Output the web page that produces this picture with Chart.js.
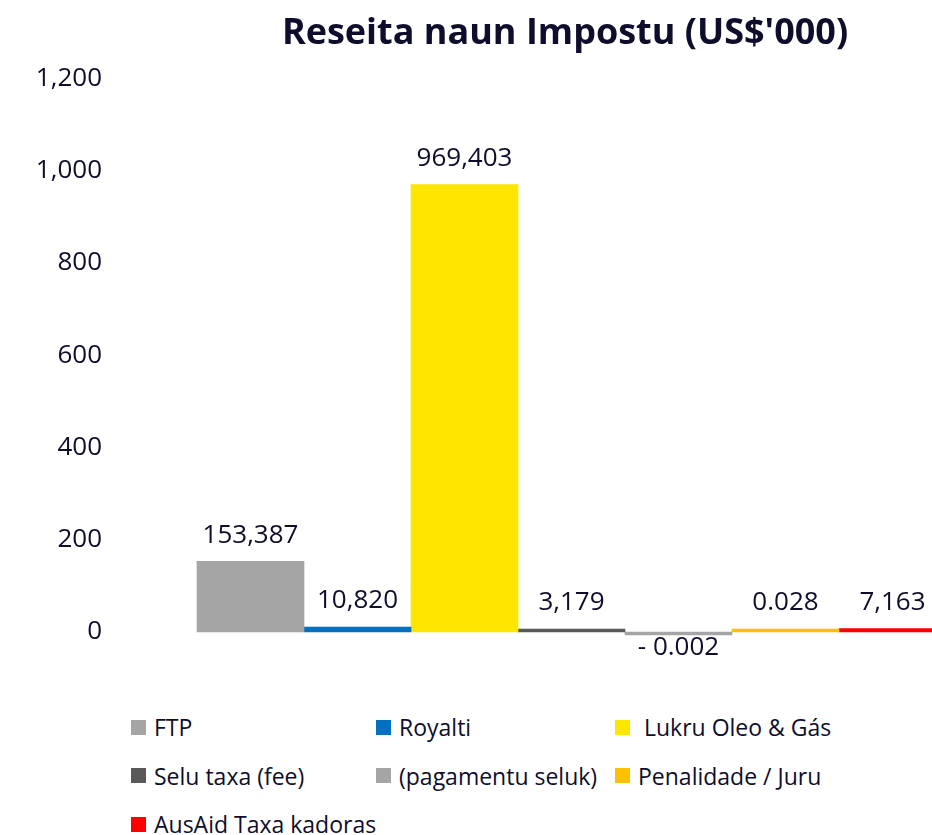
<!DOCTYPE html>
<html>
<head>
<meta charset="utf-8">
<script src="https://cdn.jsdelivr.net/npm/chart.js@4"></script>
<style>
	html, body { margin: 0; padding: 0; background: #fff; }
	body { width: 932px; height: 835px; overflow: hidden; position: relative; font-family: 'Open Sans', sans-serif; }
	#chart { position: absolute; left: 0; top: 0; }
	#legend {
		position: absolute; left: 131px; top: 703px;
		display: grid; grid-template-columns: 245px 239px auto;
		grid-auto-rows: 48.5px; color: #0e0e2c; font-size: 23px;
	}
	.item { display: flex; align-items: center; white-space: pre; }
	.box { width: 15px; height: 15px; margin-right: 8px; flex: none; }
</style>
</head>
<body>
<canvas id="chart" width="1130" height="700"></canvas>
<div id="legend"></div>
<script>
// series shown in the chart (one bar each, in one group)
var seriesNames = ['FTP', 'Royalti', ' Lukru Oleo & Gás', 'Selu taxa (fee)', '(pagamentu seluk)', 'Penalidade / Juru', 'AusAid Taxa kadoras'];
var seriesValues = [153.387, 10.820, 969.403, 3.179, -0.002, 0.028, 7.163];
var valueLabels = ['153,387', '10,820', '969,403', '3,179', '- 0.002', '0.028', '7,163'];
var seriesColors = ['#a5a5a5', '#0070c0', '#ffe600', '#595959', '#a5a5a5', '#ffc000', '#ff0000'];
var yTicks = [0, 200, 400, 600, 800, 1000, 1200];

var textColor = '#0e0e2c';
var fontFamily = "'Open Sans', sans-serif";

// draws the value above (or below for negatives) each bar
var valueLabelPlugin = {
	id: 'valueLabels',
	afterDatasetsDraw: function(chart) {
		var ctx = chart.ctx;
		ctx.save();
		ctx.font = '26px ' + fontFamily;
		ctx.fillStyle = textColor;
		ctx.textAlign = 'center';
		ctx.textBaseline = 'middle';
		chart.data.datasets.forEach(function(ds, i) {
			var bar = chart.getDatasetMeta(i).data[0];
			if (!bar) return;
			var v = ds.data[0];
			if (v >= 0) {
				ctx.fillText(valueLabels[i], bar.x, Math.min(bar.y, bar.base) - 26);
			} else {
				ctx.fillText(valueLabels[i], bar.x, bar.base + 16);
			}
		});
		ctx.restore();
	}
};

// centre the title over the whole (cropped) canvas, like the original
var titleSpanPlugin = {
	id: 'titleSpan',
	afterLayout: function(chart) {
		chart.titleBlock.left = 0;
		chart.titleBlock.right = chart.width;
	}
};

var datasets = seriesNames.map(function(name, i) {
	return {
		label: name,
		data: [seriesValues[i]],
		backgroundColor: seriesColors[i],
		borderWidth: 0,
		minBarLength: 3,
		clip: false
	};
});

new Chart(document.getElementById('chart').getContext('2d'), {
	type: 'bar',
	data: { labels: [''], datasets: datasets },
	options: {
		responsive: false,
		animation: false,
		layout: { autoPadding: false, padding: { left: 0, right: 184, top: 0, bottom: 68 } },
		datasets: { bar: { categoryPercentage: 1, barPercentage: 1 } },
		scales: {
			x: { display: false },
			y: {
				min: 0,
				max: 1200,
				grid: { display: false },
				border: { display: false },
				afterBuildTicks: function(scale) {
					scale.ticks = yTicks.map(function(v) { return { value: v }; });
				},
				afterFit: function(scale) {
					scale.width = 197;
					scale.paddingTop = 15;
					scale.paddingBottom = 15;
				},
				ticks: {
					padding: 87,
					color: textColor,
					font: { family: fontFamily, size: 26 },
					callback: function(value) { return value.toLocaleString('en-US'); }
				}
			}
		},
		plugins: {
			legend: { display: false },
			tooltip: { enabled: false },
			title: {
				display: true,
				text: "Reseita naun Impostu (US$'000)",
				color: textColor,
				font: { family: fontFamily, size: 36, weight: 'bold' },
				padding: { top: 12, bottom: 23 }
			}
		}
	},
	plugins: [valueLabelPlugin, titleSpanPlugin]
});

// legend built from the same series arrays
var legend = document.getElementById('legend');
seriesNames.forEach(function(name, i) {
	var item = document.createElement('div');
	item.className = 'item';
	var box = document.createElement('span');
	box.className = 'box';
	box.style.background = seriesColors[i];
	var txt = document.createElement('span');
	txt.textContent = name;
	item.appendChild(box);
	item.appendChild(txt);
	legend.appendChild(item);
});
</script>
</body>
</html>
